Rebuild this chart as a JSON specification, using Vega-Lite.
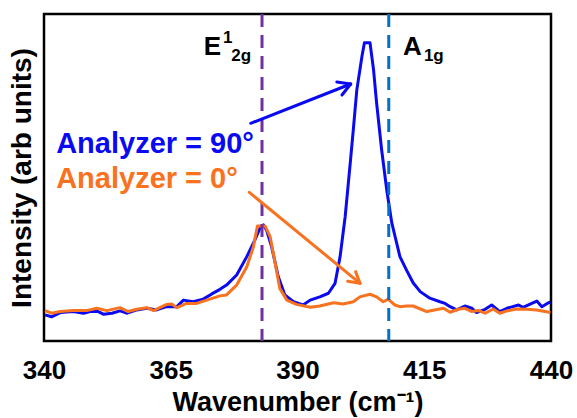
{
  "$schema": "https://vega.github.io/schema/vega-lite/v6.json",
  "width": 507,
  "height": 327,
  "autosize": "none",
  "padding": {"left": 44, "top": 14, "right": 26, "bottom": 77},
  "background": "white",
  "config": {
    "view": {"stroke": "black", "strokeWidth": 2.5},
    "font": "Liberation Sans",
    "text": {"font": "Liberation Sans", "fontWeight": "bold"}
  },
  "resolve": {"scale": {"color": "independent"}},
  "datasets": {
    "blue": [
      {"w": 340.2, "v": 8.0}, {"w": 341.5, "v": 7.4}, {"w": 343.2, "v": 8.7}, {"w": 345.8, "v": 9.0},
      {"w": 347.8, "v": 8.5}, {"w": 349.1, "v": 9.0}, {"w": 350.7, "v": 9.0}, {"w": 351.7, "v": 8.2},
      {"w": 353.4, "v": 8.5}, {"w": 355.0, "v": 9.2}, {"w": 356.3, "v": 8.5}, {"w": 358.3, "v": 9.5},
      {"w": 360.3, "v": 10.0}, {"w": 362.2, "v": 9.5}, {"w": 364.2, "v": 10.5}, {"w": 366.2, "v": 10.5},
      {"w": 367.5, "v": 12.5}, {"w": 369.4, "v": 12.0}, {"w": 371.4, "v": 12.8}, {"w": 373.1, "v": 14.4},
      {"w": 374.7, "v": 15.8}, {"w": 376.0, "v": 17.1}, {"w": 378.0, "v": 20.2}, {"w": 380.0, "v": 25.8},
      {"w": 381.6, "v": 30.9}, {"w": 382.6, "v": 34.5}, {"w": 383.3, "v": 35.5}, {"w": 383.9, "v": 33.9},
      {"w": 384.9, "v": 28.8}, {"w": 386.2, "v": 19.7}, {"w": 387.5, "v": 14.1}, {"w": 389.2, "v": 12.0},
      {"w": 391.1, "v": 11.0}, {"w": 392.5, "v": 12.5}, {"w": 394.4, "v": 13.5}, {"w": 396.1, "v": 14.6},
      {"w": 397.4, "v": 17.6}, {"w": 398.4, "v": 25.8}, {"w": 399.4, "v": 38.0}, {"w": 400.4, "v": 54.4},
      {"w": 401.0, "v": 64.5}, {"w": 401.7, "v": 76.8}, {"w": 402.7, "v": 86.9}, {"w": 403.2, "v": 91.2},
      {"w": 404.3, "v": 91.2}, {"w": 405.0, "v": 82.9}, {"w": 405.6, "v": 72.8}, {"w": 406.6, "v": 58.4},
      {"w": 407.6, "v": 46.2}, {"w": 408.6, "v": 36.1}, {"w": 410.2, "v": 25.8}, {"w": 411.5, "v": 21.7},
      {"w": 412.8, "v": 17.8}, {"w": 414.2, "v": 15.1}, {"w": 416.1, "v": 13.1}, {"w": 418.1, "v": 12.0},
      {"w": 419.1, "v": 11.5}, {"w": 420.1, "v": 10.5}, {"w": 421.4, "v": 9.5}, {"w": 423.0, "v": 10.7},
      {"w": 424.4, "v": 10.0}, {"w": 425.3, "v": 8.7}, {"w": 427.0, "v": 9.7}, {"w": 428.3, "v": 11.0},
      {"w": 429.9, "v": 9.0}, {"w": 431.3, "v": 10.0}, {"w": 433.6, "v": 11.0}, {"w": 434.5, "v": 10.3},
      {"w": 436.2, "v": 11.5}, {"w": 437.2, "v": 12.2}, {"w": 438.2, "v": 10.5}, {"w": 439.5, "v": 11.7},
      {"w": 439.9, "v": 11.9}
    ],
    "orange": [
      {"w": 340.2, "v": 9.3}, {"w": 341.5, "v": 8.5}, {"w": 343.2, "v": 9.0}, {"w": 345.8, "v": 9.3},
      {"w": 348.4, "v": 9.3}, {"w": 350.4, "v": 10.0}, {"w": 352.4, "v": 9.3}, {"w": 355.0, "v": 10.2},
      {"w": 356.6, "v": 9.0}, {"w": 358.3, "v": 9.7}, {"w": 360.3, "v": 10.2}, {"w": 361.6, "v": 9.3},
      {"w": 364.2, "v": 11.2}, {"w": 365.2, "v": 11.3}, {"w": 366.2, "v": 10.2}, {"w": 368.1, "v": 11.5},
      {"w": 370.1, "v": 11.5}, {"w": 372.1, "v": 12.5}, {"w": 374.7, "v": 13.8}, {"w": 376.0, "v": 14.1},
      {"w": 378.0, "v": 17.1}, {"w": 380.0, "v": 22.7}, {"w": 381.3, "v": 28.8}, {"w": 382.1, "v": 35.2},
      {"w": 383.6, "v": 35.2}, {"w": 384.6, "v": 31.9}, {"w": 385.6, "v": 23.8}, {"w": 386.5, "v": 16.1},
      {"w": 387.9, "v": 12.5}, {"w": 389.8, "v": 11.2}, {"w": 392.5, "v": 10.3}, {"w": 394.4, "v": 10.7},
      {"w": 397.1, "v": 11.7}, {"w": 399.0, "v": 11.3}, {"w": 401.0, "v": 12.0}, {"w": 402.3, "v": 13.5},
      {"w": 404.3, "v": 14.3}, {"w": 405.6, "v": 13.5}, {"w": 406.9, "v": 12.0}, {"w": 407.9, "v": 12.8},
      {"w": 409.2, "v": 11.0}, {"w": 410.2, "v": 10.5}, {"w": 411.5, "v": 10.7}, {"w": 412.8, "v": 10.7},
      {"w": 415.5, "v": 9.0}, {"w": 418.8, "v": 10.0}, {"w": 420.1, "v": 8.8}, {"w": 421.7, "v": 9.7},
      {"w": 423.0, "v": 10.0}, {"w": 424.4, "v": 9.0}, {"w": 425.7, "v": 9.3}, {"w": 427.0, "v": 8.5},
      {"w": 428.6, "v": 9.8}, {"w": 429.9, "v": 8.5}, {"w": 431.3, "v": 9.2}, {"w": 433.2, "v": 9.8},
      {"w": 435.2, "v": 9.7}, {"w": 437.2, "v": 9.5}, {"w": 439.9, "v": 8.7}
    ],
    "ticks": [
      {"w": 352.5}, {"w": 365}, {"w": 377.5}, {"w": 390}, {"w": 402.5}, {"w": 415}, {"w": 427.5}
    ],
    "modes": [{"mode": "E2g", "w": 383}, {"mode": "A1g", "w": 408}],
    "arrows": [
      {"series": "90", "x1": 380.77, "y1": 66.57, "x2": 400.49, "y2": 78.59},
      {"series": "90", "x1": 400.49, "y1": 78.59, "x2": 397.76, "y2": 79.2},
      {"series": "90", "x1": 400.49, "y1": 78.59, "x2": 398.77, "y2": 75.24},
      {"series": "0", "x1": 380.49, "y1": 45.47, "x2": 402.33, "y2": 17.64},
      {"series": "0", "x1": 402.33, "y1": 17.64, "x2": 399.9, "y2": 18.27},
      {"series": "0", "x1": 402.33, "y1": 17.64, "x2": 401.46, "y2": 21.22}
    ],
    "legendText": [
      {"series": "90", "label": "Analyzer = 90°", "w": 342.4, "v": 57.4},
      {"series": "0", "label": "Analyzer = 0°", "w": 342.4, "v": 46.8}
    ],
    "bigLabels": [
      {"label": "E", "w": 371.5, "v": 87.5},
      {"label": "A", "w": 410.81, "v": 87.5}
    ],
    "smallLabels": [
      {"label": "1", "w": 375.3, "v": 91.04},
      {"label": "2g", "w": 376.92, "v": 85.75},
      {"label": "1g", "w": 414.93, "v": 85.75}
    ]
  },
  "encoding": {
    "x": {
      "field": "w", "type": "quantitative",
      "scale": {"domain": [340, 440], "nice": false, "zero": false},
      "axis": {
        "title": "Wavenumber (cm⁻¹)",
        "values": [340, 365, 390, 415, 440],
        "grid": false, "domain": false, "ticks": false,
        "labelFont": "Liberation Sans", "labelFontSize": 26, "labelFontWeight": "bold", "labelColor": "black",
        "labelPadding": 16, "labelFlush": false, "labelOverlap": false,
        "titleFont": "Liberation Sans", "titleFontSize": 27, "titleFontWeight": "bold", "titleColor": "black",
        "titlePadding": 6
      }
    },
    "y": {
      "field": "v", "type": "quantitative",
      "scale": {"domain": [0, 100], "nice": false, "zero": false},
      "axis": {
        "title": "Intensity (arb units)",
        "labels": false, "ticks": false, "domain": false, "grid": false,
        "titleFont": "Liberation Sans", "titleFontSize": 28, "titleFontWeight": "bold", "titleColor": "black",
        "titlePadding": 8
      }
    }
  },
  "layer": [
    {
      "data": {"name": "blue"},
      "mark": {"type": "line", "color": "#0a0af0", "strokeWidth": 3, "strokeJoin": "round"}
    },
    {
      "data": {"name": "orange"},
      "mark": {"type": "line", "color": "#f87220", "strokeWidth": 3, "strokeJoin": "round"}
    },
    {
      "data": {"name": "modes"},
      "mark": {"type": "rule", "strokeWidth": 3, "strokeDash": [13, 8]},
      "encoding": {
        "x": {"field": "w", "type": "quantitative"},
        "y": null,
        "color": {"field": "mode", "type": "nominal", "scale": {"domain": ["E2g", "A1g"], "range": ["#7030a0", "#0070c8"]}, "legend": null}
      }
    },
    {
      "data": {"name": "ticks"},
      "mark": {"type": "rule", "color": "#000000", "strokeWidth": 3, "opacity": 1},
      "encoding": {
        "x": {"field": "w", "type": "quantitative"},
        "y": {"datum": 0, "type": "quantitative"},
        "y2": {"datum": 3}
      }
    },
    {
      "data": {"name": "arrows"},
      "mark": {"type": "rule", "strokeWidth": 3, "strokeCap": "round"},
      "encoding": {
        "x": {"field": "x1", "type": "quantitative"},
        "y": {"field": "y1", "type": "quantitative"},
        "x2": {"field": "x2"},
        "y2": {"field": "y2"},
        "color": {"field": "series", "type": "nominal", "scale": {"domain": ["90", "0"], "range": ["#0a0af0", "#f87220"]}, "legend": null}
      }
    },
    {
      "data": {"name": "legendText"},
      "mark": {"type": "text", "fontSize": 29, "fontWeight": "bold", "align": "left", "baseline": "alphabetic"},
      "encoding": {
        "text": {"field": "label"},
        "color": {"field": "series", "type": "nominal", "scale": {"domain": ["90", "0"], "range": ["#0a0af0", "#f87220"]}, "legend": null}
      }
    },
    {
      "data": {"name": "bigLabels"},
      "mark": {"type": "text", "fontSize": 26, "fontWeight": "bold", "align": "left", "baseline": "alphabetic", "color": "black"},
      "encoding": {"text": {"field": "label"}}
    },
    {
      "data": {"name": "smallLabels"},
      "mark": {"type": "text", "fontSize": 17, "fontWeight": "bold", "align": "left", "baseline": "alphabetic", "color": "black"},
      "encoding": {"text": {"field": "label"}}
    }
  ]
}
